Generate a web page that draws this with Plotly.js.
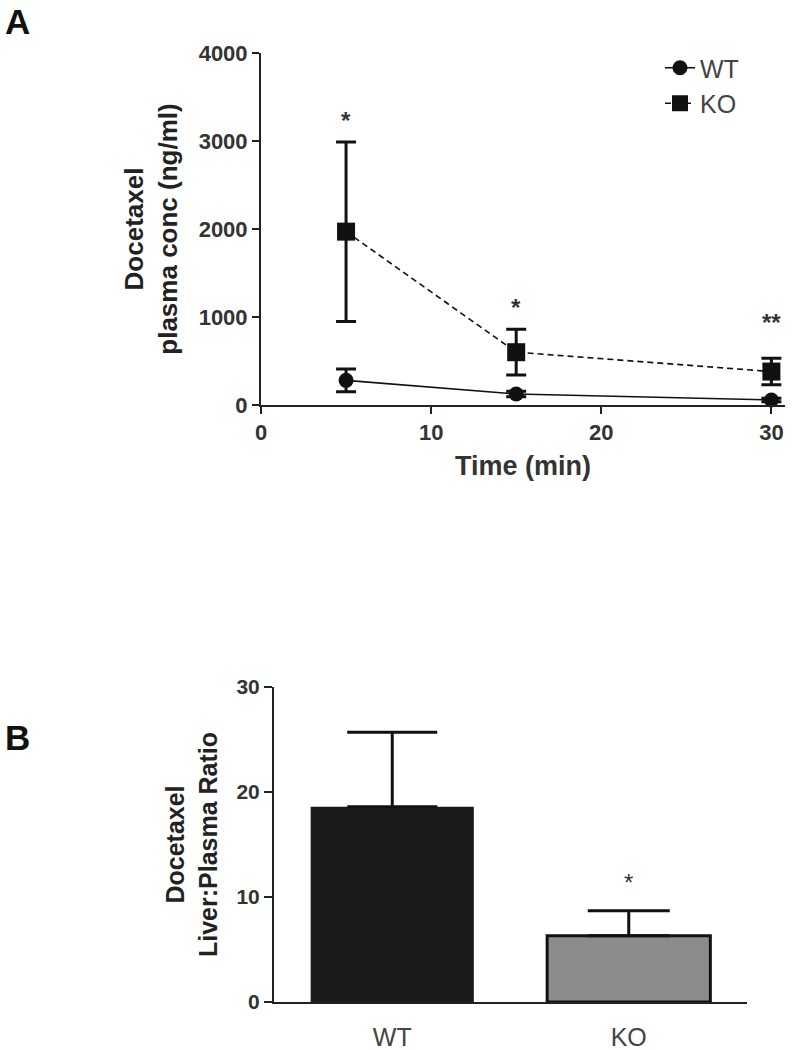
<!DOCTYPE html>
<html><head><meta charset="utf-8">
<script src="https://cdn.plot.ly/plotly-3.0.1.min.js"></script>
<style>html,body{margin:0;padding:0;background:#fff}</style>
</head><body><div id="chart" style="width:792px;height:1050px"></div>
<script>
// Panel A data
const timeMin = [5, 15, 30];
const wtConc = [280, 125, 57];
const wtConcErr = [130, 30, 20];
const koConc = [1970, 600, 380];
const koConcErr = [1020, 260, 150];
const concSig = ['*', '*', '**'];
// Panel B data
const groups = ['WT', 'KO'];
const ratio = [18.6, 6.3];
const ratioErr = [7.1, 2.4];
const ratioSig = ['', '*'];

const FF = 'Liberation Sans, Arial, sans-serif';
const AX = '#222';
const TXT = '#333';

const traces = [
  {
    x: timeMin, y: wtConc, name: 'WT', type: 'scatter', mode: 'lines+markers',
    xaxis: 'x', yaxis: 'y',
    line: {color: '#111', width: 1.6},
    marker: {symbol: 'circle', size: 15, color: '#111'},
    error_y: {type: 'data', array: wtConcErr, visible: true, color: '#111', thickness: 3, width: 10},
    cliponaxis: false
  },
  {
    x: timeMin, y: koConc, name: 'KO', type: 'scatter', mode: 'lines+markers',
    xaxis: 'x', yaxis: 'y',
    line: {color: '#111', width: 1.6, dash: '6px,4px'},
    marker: {symbol: 'square', size: 18, color: '#111'},
    error_y: {type: 'data', array: koConcErr, visible: true, color: '#111', thickness: 3, width: 10},
    cliponaxis: false
  }
];

const barFill = ['#1b1b1b', '#8c8c8c'];
const barLine = [0, 3];
const capW = [45, 41];
groups.forEach((g, i) => {
  traces.push({
    x: [g], y: [ratio[i]], type: 'bar', xaxis: 'x2', yaxis: 'y2', showlegend: false,
    width: 0.69,
    marker: {color: barFill[i], line: {color: '#111', width: barLine[i]}},
    error_y: {type: 'data', symmetric: false, array: [ratioErr[i]], arrayminus: [0], visible: true,
              color: '#111', thickness: 3, width: capW[i]}
  });
});

const annotations = [
  {text: '<b>A</b>', xref: 'paper', yref: 'paper', x: 3/792, y: 1 - 0/1050, xanchor: 'left', yanchor: 'top',
   showarrow: false, font: {family: FF, size: 35, color: '#111'}},
  {text: '<b>B</b>', xref: 'paper', yref: 'paper', x: 3/792, y: 1 - 716/1050, xanchor: 'left', yanchor: 'top',
   showarrow: false, font: {family: FF, size: 35, color: '#111'}}
];
const sigShiftA = [6, 6, 20];
timeMin.forEach((t, i) => {
  annotations.push({text: concSig[i], x: t, y: koConc[i] + koConcErr[i], xref: 'x', yref: 'y',
    xanchor: 'center', yanchor: 'bottom', yshift: sigShiftA[i], showarrow: false,
    font: {family: FF, size: 24, color: TXT, weight: 'bold'}});
});
groups.forEach((g, i) => {
  if (ratioSig[i]) annotations.push({text: ratioSig[i], x: g, y: ratio[i] + ratioErr[i], xref: 'x2', yref: 'y2',
    xanchor: 'center', yanchor: 'bottom', yshift: 13, showarrow: false,
    font: {family: FF, size: 24, color: TXT}});
});

const tickFontBold = {family: FF, size: 22, color: TXT, weight: 'bold'};
const layout = {
  width: 792, height: 1050,
  margin: {l: 0, r: 0, t: 0, b: 0},
  paper_bgcolor: '#fff', plot_bgcolor: '#fff',
  showlegend: true,
  legend: {x: 660/792, y: 1 - 45/1050, xanchor: 'left', yanchor: 'top',
           font: {family: FF, size: 25, color: '#444'}, bgcolor: 'rgba(0,0,0,0)', tracegroupgap: 4},
  xaxis: {
    domain: [261/792, 785/792], range: [0, 30.8], anchor: 'y',
    tickvals: [0, 10, 20, 30], ticks: 'outside', ticklen: 7, tickwidth: 2, tickcolor: AX,
    showline: true, linecolor: AX, linewidth: 2, showgrid: false, zeroline: false,
    tickfont: tickFontBold,
    title: {text: 'Time (min)', font: {family: FF, size: 27, color: TXT, weight: 'bold'}, standoff: 12}
  },
  yaxis: {
    domain: [1 - 405/1050, 1 - 53/1050], range: [0, 4000], anchor: 'x',
    tickvals: [0, 1000, 2000, 3000, 4000], ticks: 'outside', ticklen: 7, tickwidth: 2, tickcolor: AX,
    showline: true, linecolor: AX, linewidth: 2, showgrid: false, zeroline: false,
    tickfont: tickFontBold,
    title: {text: 'Docetaxel<br>plasma conc (ng/ml)', font: {family: FF, size: 26, color: '#222', weight: 'bold'}, standoff: 14}
  },
  xaxis2: {
    domain: [274/792, 747/792], range: [-0.5, 1.5], anchor: 'y2', type: 'category',
    ticks: '', showline: true, linecolor: AX, linewidth: 2, showgrid: false, zeroline: false,
    ticklabelstandoff: 12,
    tickfont: {family: FF, size: 25, color: '#444'}
  },
  yaxis2: {
    domain: [1 - 1002/1050, 1 - 687/1050], range: [0, 30], anchor: 'x2',
    tickvals: [0, 10, 20, 30], ticks: 'outside', ticklen: 8, tickwidth: 2, tickcolor: AX,
    showline: true, linecolor: AX, linewidth: 2, showgrid: false, zeroline: false,
    tickfont: {family: FF, size: 21, color: TXT, weight: 'bold'},
    title: {text: 'Docetaxel<br>Liver:Plasma Ratio', font: {family: FF, size: 25, color: '#222', weight: 'bold'}, standoff: 12}
  },
  annotations: annotations
};

Plotly.newPlot('chart', traces, layout, {staticPlot: true, displayModeBar: false});
</script></body></html>
